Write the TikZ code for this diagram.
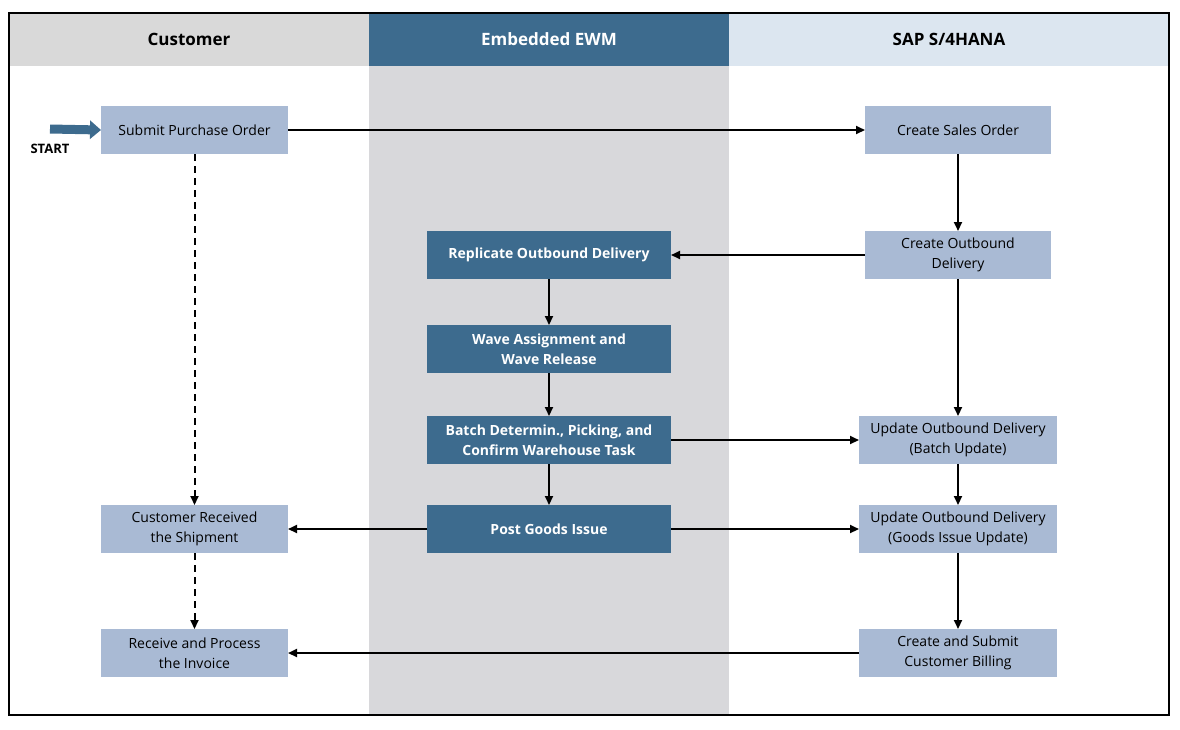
\documentclass[tikz,border=0pt]{standalone}
\usepackage{fontspec}
\setmainfont{Open Sans}
\usetikzlibrary{arrows.meta}
\definecolor{dblue}{HTML}{3D6B8E}
\definecolor{lblue}{HTML}{A9BAD4}
\definecolor{hblue}{HTML}{DCE6F0}
\definecolor{hgray}{HTML}{D9D9D9}
\definecolor{mgray}{HTML}{D8D8DB}
\begin{document}
\begin{tikzpicture}[x=1pt,y=-1pt,
  lb/.style={fill=lblue,draw=none,align=center,font=\fontsize{14}{20}\selectfont,inner sep=0,outer sep=0},
  db/.style={fill=dblue,draw=none,align=center,text=white,font=\bfseries\fontsize{14}{20}\selectfont,inner sep=0,outer sep=0},
  hd/.style={font=\bfseries\fontsize{17}{20}\selectfont},
  ar/.style={-{Triangle[length=9pt,width=8pt]},line width=2pt},
  da/.style={ar,dash pattern=on 7pt off 5pt}]
\useasboundingbox (0,0) rectangle (1180,729);
\fill[white] (0,0) rectangle (1180,729);
\fill[hgray] (9,13) rectangle (369,66);
\fill[dblue] (369,13) rectangle (729,66);
\fill[hblue] (729,13) rectangle (1169,66);
\fill[mgray] (369,66) rectangle (729,715);
\draw[line width=2pt] (9,13) rectangle (1169,715);
\node[hd] (h1) at (189,39) {Customer};
\node[hd,text=white] (h2) at (549,39) {Embedded EWM};
\node[hd] (h3) at (949,39) {SAP S/4HANA};
\def\bx#1#2#3#4#5#6#7{\node[#2,minimum width=#5-#3,minimum height=#6-#4] (#1) at ({(#3+#5)/2},{(#4+#6)/2}) {#7};}
\bx{po}{lb}{101}{106}{288}{154}{Submit Purchase Order}
\bx{so}{lb}{865}{106}{1051}{154}{Create Sales Order}
\bx{cod}{lb}{865}{231}{1051}{279}{Create Outbound\\Delivery}
\bx{rep}{db}{427}{231}{671}{279}{Replicate Outbound Delivery}
\bx{wave}{db}{427}{325}{671}{373}{Wave Assignment and\\Wave Release}
\bx{bat}{db}{427}{416}{671}{464}{Batch Determin., Picking, and\\Confirm Warehouse Task}
\bx{ubat}{lb}{859}{416}{1057}{464}{Update Outbound Delivery\\(Batch Update)}
\bx{pgi}{db}{427}{505}{671}{553}{Post Goods Issue}
\bx{ugi}{lb}{859}{505}{1057}{553}{Update Outbound Delivery\\(Goods Issue Update)}
\bx{cr}{lb}{101}{505}{288}{553}{Customer Received\\the Shipment}
\bx{inv}{lb}{101}{629}{288}{677}{Receive and Process\\the Invoice}
\bx{bill}{lb}{859}{629}{1057}{677}{Create and Submit\\Customer Billing}
\coordinate (s0) at (50,129);
\draw[-{Triangle[length=11pt,width=18pt]},line width=9pt,dblue] (s0) -- (po.west);
\node[font=\bfseries\fontsize{13}{15}\selectfont] (st) at (50,149) {START};
\draw[ar] (po) -- (so);
\draw[ar] (so) -- (cod);
\draw[ar] (cod) -- (rep);
\draw[ar] (rep) -- (wave);
\draw[ar] (wave) -- (bat);
\draw[ar] (bat) -- (pgi);
\draw[ar] (cod) -- (ubat);
\draw[ar] (bat) -- (ubat);
\draw[ar] (ubat) -- (ugi);
\draw[ar] (pgi) -- (ugi);
\draw[ar] (pgi) -- (cr);
\draw[ar] (ugi) -- (bill);
\draw[ar] (bill) -- (inv);
\draw[da] (po) -- (cr);
\draw[da] (cr) -- (inv);
\end{tikzpicture}
\end{document}
